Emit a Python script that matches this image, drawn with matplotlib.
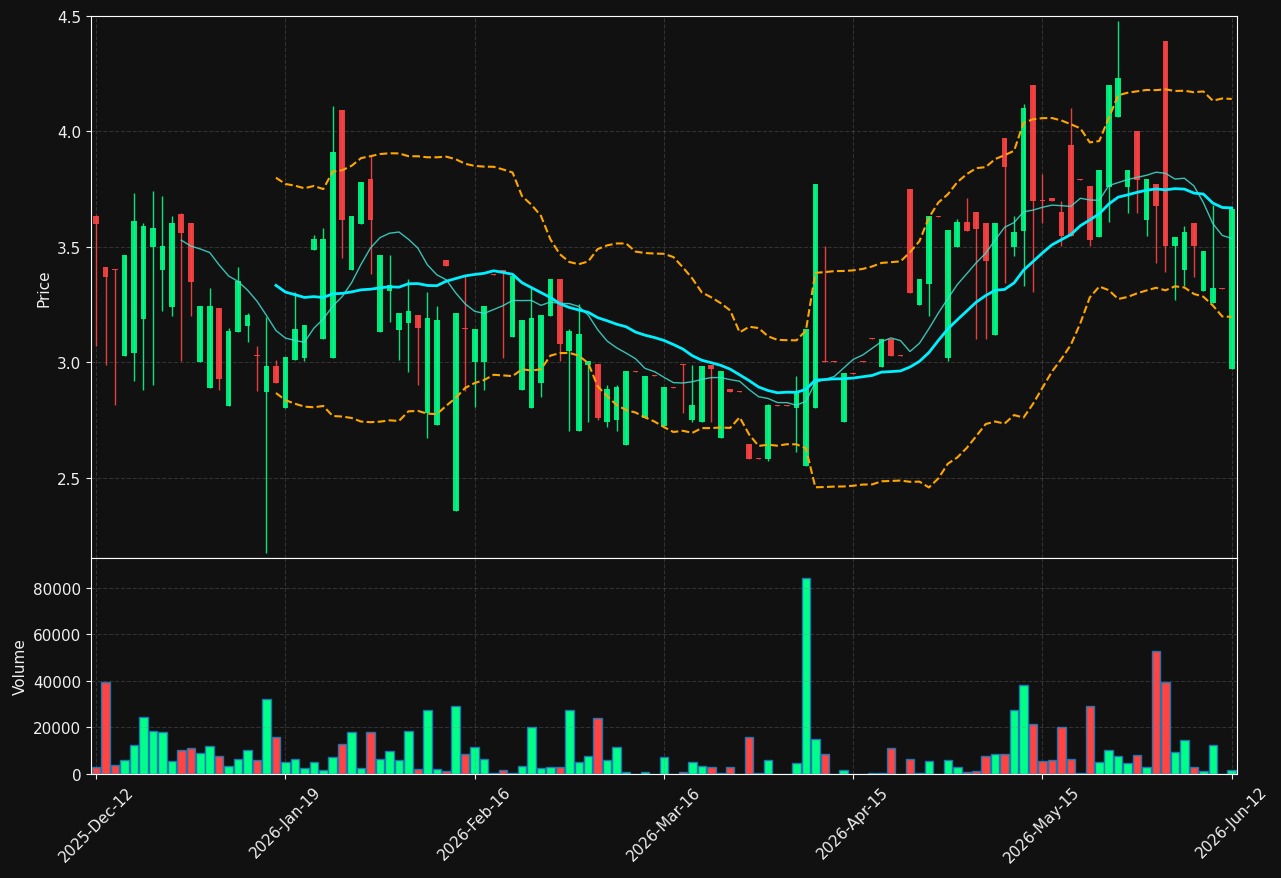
import numpy as np
import pandas as pd
import matplotlib
matplotlib.use("Agg")
import matplotlib.pyplot as plt

# OHLC (one candle per trading day)
opens = [3.634, 3.413, 3.403, 3.028, 3.042, 3.188, 3.501, 3.400, 3.241, 3.643,
         3.604, 3.002, 2.889, 3.235, 2.811, 3.132, 3.158, 3.031, 2.871, 2.983,
         2.802, 3.011, 3.019, 3.488, 3.102, 3.019, 4.094, 3.400, 3.601, 3.794,
         3.132, 3.310, 3.140, 3.171, 3.204, 2.781, 2.728, 3.443, 2.358, 3.150,
         3.002, 3.002, 3.384, 3.402, 3.111, 2.880, 2.802, 2.910, 3.201, 3.361,
         3.049, 2.704, 2.990, 2.992, 2.741, 2.750, 2.642, 2.964, 2.761, 2.944,
         2.726, 2.894, 2.992, 2.750, 2.741, 2.990, 2.672, 2.883, 2.876, 2.645,
         2.586, 2.581, 2.814, 2.814, 2.802, 2.551, 2.802, 3.007, 3.007, 2.741,
         2.954, 3.007, 3.105, 2.980, 3.103, 3.031, 3.752, 3.250, 3.340, 3.635,
         3.019, 3.501, 3.610, 3.651, 3.604, 3.120, 3.972, 3.501, 3.571, 4.203,
         3.703, 3.711, 3.651, 3.942, 3.795, 3.764, 3.541, 3.761, 4.061, 3.761,
         4.002, 3.618, 3.773, 4.393, 3.503, 3.400, 3.604, 3.308, 3.259, 3.322,
         2.972]
highs = [3.640, 3.413, 3.403, 3.465, 3.734, 3.603, 3.741, 3.719, 3.633, 3.649,
         3.604, 3.244, 3.321, 3.235, 3.150, 3.411, 3.212, 3.073, 3.198, 3.010,
         3.022, 3.304, 3.161, 3.550, 3.580, 4.111, 4.094, 3.634, 3.782, 3.895,
         3.465, 3.465, 3.213, 3.361, 3.204, 3.304, 3.244, 3.443, 3.213, 3.372,
         3.144, 3.244, 3.384, 3.402, 3.376, 3.183, 3.324, 3.204, 3.361, 3.361,
         3.146, 3.251, 3.005, 2.992, 2.903, 2.903, 2.962, 2.964, 2.942, 2.944,
         2.892, 2.894, 2.992, 2.990, 2.983, 2.990, 2.962, 2.883, 2.876, 2.645,
         2.586, 2.821, 2.814, 2.814, 2.942, 3.144, 3.773, 3.503, 3.007, 2.952,
         2.954, 3.007, 3.105, 3.103, 3.103, 3.031, 3.752, 3.361, 3.634, 3.635,
         3.574, 3.621, 3.713, 3.651, 3.604, 3.604, 3.972, 3.633, 4.118, 4.203,
         3.818, 3.711, 3.701, 4.103, 3.795, 3.764, 3.833, 4.203, 4.480, 3.833,
         4.002, 3.794, 3.773, 4.393, 3.541, 3.591, 3.604, 3.482, 3.681, 3.322,
         3.664]
lows = [3.073, 2.990, 2.814, 3.028, 2.921, 2.882, 2.904, 3.221, 3.203, 3.005,
        3.203, 3.002, 2.889, 2.882, 2.811, 3.132, 3.090, 2.874, 2.173, 2.912,
        2.802, 3.011, 3.005, 3.488, 3.102, 3.019, 3.450, 3.400, 3.601, 3.381,
        3.132, 3.173, 3.011, 2.960, 2.903, 2.673, 2.728, 3.419, 2.358, 2.874,
        2.806, 2.882, 3.380, 3.020, 3.111, 2.880, 2.802, 2.851, 3.201, 3.005,
        2.704, 2.704, 2.743, 2.750, 2.722, 2.704, 2.642, 2.960, 2.761, 2.940,
        2.726, 2.890, 2.782, 2.743, 2.741, 2.743, 2.672, 2.871, 2.872, 2.581,
        2.582, 2.574, 2.810, 2.810, 2.613, 2.551, 2.802, 3.003, 3.003, 2.741,
        2.950, 3.003, 3.101, 2.980, 3.028, 3.027, 3.301, 3.250, 3.203, 3.631,
        3.005, 3.501, 3.571, 3.103, 3.103, 3.120, 3.342, 3.462, 3.333, 3.304,
        3.603, 3.701, 3.503, 3.548, 3.791, 3.503, 3.541, 3.610, 4.061, 3.648,
        3.648, 3.548, 3.432, 3.390, 3.271, 3.331, 3.370, 3.308, 3.259, 3.318,
        2.972]
closes = [3.601, 3.370, 3.400, 3.465, 3.612, 3.591, 3.581, 3.505, 3.604, 3.562,
          3.349, 3.244, 3.244, 2.927, 3.135, 3.354, 3.204, 3.028, 2.983, 2.912,
          3.022, 3.144, 3.161, 3.535, 3.535, 3.912, 3.618, 3.634, 3.782, 3.618,
          3.465, 3.334, 3.213, 3.222, 3.150, 3.191, 3.183, 3.419, 3.213, 3.143,
          3.144, 3.244, 3.380, 3.391, 3.376, 3.183, 3.191, 3.204, 3.361, 3.081,
          3.135, 3.121, 3.005, 2.759, 2.883, 2.892, 2.962, 2.960, 2.942, 2.940,
          2.892, 2.890, 2.988, 2.814, 2.983, 2.972, 2.962, 2.871, 2.872, 2.581,
          2.582, 2.814, 2.810, 2.810, 2.871, 3.144, 3.773, 3.003, 3.003, 2.952,
          2.950, 3.003, 3.101, 3.103, 3.028, 3.027, 3.301, 3.361, 3.634, 3.631,
          3.574, 3.610, 3.571, 3.578, 3.440, 3.604, 3.848, 3.565, 4.103, 3.701,
          3.699, 3.701, 3.548, 3.548, 3.791, 3.530, 3.833, 4.203, 4.233, 3.833,
          3.791, 3.794, 3.679, 3.503, 3.541, 3.565, 3.503, 3.482, 3.322, 3.318,
          3.664]
volumes = [2860, 39700, 4000, 5900, 12300, 24300, 18300, 17900, 5400, 10100,
           11000, 8900, 11900, 7600, 3300, 6300, 10100, 5900, 32400, 16100,
           5000, 6300, 2400, 5000, 1600, 7100, 13100, 17900, 2400, 17900,
           6300, 9700, 5900, 18300, 2000, 27300, 2000, 1100, 29000, 8400,
           11400, 6300, 300, 1600, 300, 3300, 20400, 2400, 2900, 2900,
           27700, 5000, 7600, 23900, 5900, 11400, 700, 0, 700, 0,
           7100, 0, 700, 5000, 3300, 2900, 300, 2900, 0, 16100,
           300, 5900, 0, 0, 4600, 84300, 14900, 8400, 0, 1600,
           0, 0, 300, 300, 11000, 0, 6300, 300, 5400, 0,
           5900, 2900, 700, 1100, 7600, 8400, 8400, 27300, 38400, 21300,
           5400, 5900, 20000, 6300, 300, 29400, 5000, 10100, 7600, 4600,
           8000, 2900, 53000, 39300, 9300, 14400, 2900, 1100, 12300, 0,
           1600]
tick_labels = ["2025-Dec-12", "2026-Jan-19", "2026-Feb-16", "2026-Mar-16",
               "2026-Apr-15", "2026-May-15", "2026-Jun-12"]

UP = "#00ff88"
DOWN = "#ff4444"
BG = "#111111"
FG = "#f0f0f0"

df = pd.DataFrame({"open": opens, "high": highs, "low": lows,
                   "close": closes, "volume": volumes})
x = np.arange(len(df))
up = df["close"] >= df["open"]
colors = np.where(up, UP, DOWN)

ma10 = df["close"].rolling(10).mean()
ma20 = df["close"].rolling(20).mean()
sd20 = df["close"].rolling(20).std(ddof=0)
bb_up = ma20 + 2 * sd20
bb_lo = ma20 - 2 * sd20

fig = plt.figure(figsize=(12.81, 8.79), dpi=100, facecolor=BG)
ax1 = fig.add_axes([0.0710, 0.36405, 0.8946, 0.6166])
ax2 = fig.add_axes([0.0710, 0.1183, 0.8946, 0.2457], sharex=ax1)

# candles
ax1.vlines(x, df["low"], df["high"], colors=colors, linewidth=1, alpha=0.9, zorder=2)
body = (df["close"] - df["open"]).abs().clip(lower=0.004)
bottom = df[["open", "close"]].min(axis=1)
ax1.bar(x, body, bottom=bottom, width=0.6, color=colors, alpha=0.9, zorder=3)

ax1.plot(x, ma10, color="#40e0d0", linewidth=1, alpha=0.85, zorder=4)
ax1.plot(x, ma20, color="#00f0ff", linewidth=2, zorder=4)
ax1.plot(x, bb_up, color="orange", linewidth=1.5, linestyle="--", zorder=4)
ax1.plot(x, bb_lo, color="orange", linewidth=1.5, linestyle="--", zorder=4)

# volume
ax2.bar(x, df["volume"], width=0.9, color=colors, edgecolor="#1f77b4", linewidth=1)

for ax in (ax1, ax2):
    ax.set_facecolor(BG)
    ax.grid(True, linestyle="--", color="gray", alpha=0.3)
    ax.tick_params(colors=FG, labelsize=11)
    for s in ax.spines.values():
        s.set_color("white")

ax1.set_ylim(2.153, 4.5)
ax1.set_xlim(-0.55, len(df) - 0.45)
ax1.set_ylabel("Price", color=FG, fontsize=11)
ax1.tick_params(axis="x", labelbottom=False)

ax2.set_ylim(0, df["volume"].max() * 1.1)
ax2.set_ylabel("Volume", color=FG, fontsize=11)
ax2.set_xticks(x[::20])
ax2.set_xticklabels(tick_labels, rotation=45)

fig.savefig("out.png", dpi=100, facecolor=BG)
